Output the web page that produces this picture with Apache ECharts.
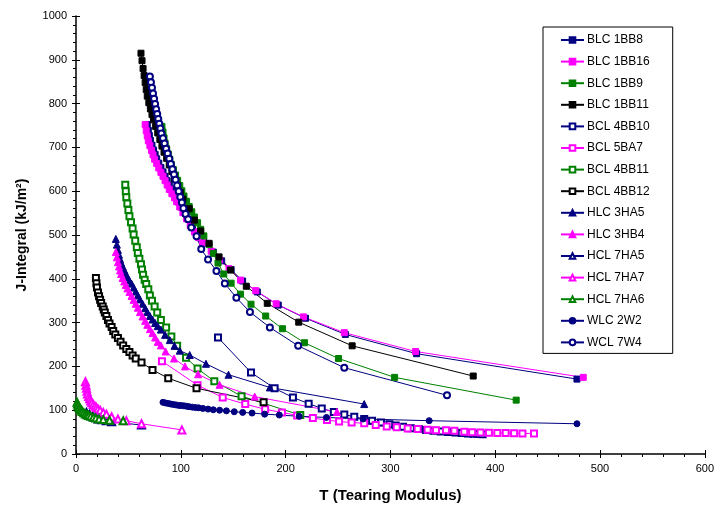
<!DOCTYPE html>
<html>
<head>
<meta charset="utf-8">
<script src="https://cdn.jsdelivr.net/npm/echarts@6/dist/echarts.min.js"></script>
<style>
  html, body { margin: 0; padding: 0; background: #fff; }
  #main { width: 717px; height: 508px; }
</style>
</head>
<body>
<div id="main"></div>
<script>
// ---- data: [T, J] pairs ----
var blc1bb8 = [[68,752],[69,739],[70,727],[71,716],[72.5,705],[74,694],[75.5,684],[77,674],[79,664],[81,654],[83,644],[85,634],[87,624],[89,614],[91,604],[93.5,594],[96,584],[98,575],[101,563],[104,550],[107.5,536],[111,521],[115,506],[119,493],[123,481],[131,461],[139,441],[148,421],[159,395],[173,370],[193,340],[219,310],[257,273],[325,229],[478,171]];
var blc1bb16 = [[66,752],[67,738],[68,726],[69,715],[70.5,704],[72,693],[73.5,683],[75,673],[77,663],[79,653],[81,643],[83,634],[85,624],[87,614],[89,604],[91.5,594],[94,585],[96,576],[99,564],[102,551],[105.5,537],[109,522],[113,507],[117,494],[121,482],[129,463],[137,443],[146,423],[157,397],[171.5,373],[191,343],[217,313],[256,277],[324,234],[484,175]];
var blc1bb9 = [[82,748],[83,735],[84,722],[85,710],[86.5,697],[88,685],[89.5,673],[91,661],[93,649],[95,637],[97,625],[99,613],[101,601],[103,589],[105.5,577],[108,565],[110.5,553],[113,541],[116,528],[119,513],[122,498],[127,478],[131,458],[135.5,436],[141,411],[148,390],[157,365],[167,342],[181,315],[197,286],[218,254],[250.5,218],[304,175],[420,123]];
var blc1bb11 = [[62,915],[63,898],[64,880],[65,864],[66,848],[67,832],[68,817],[69.5,802],[71,788],[72.5,775],[74,763],[76,748],[78,733],[80,718],[82,703],[84,689],[86.5,675],[89,660],[91.5,645],[94,628],[97,612],[99.5,597],[102,582],[108,560],[113,534],[119,509],[127,481],[136.5,450],[147.5,420],[162.5,383],[182.5,344],[212.5,301],[263.5,247],[379,178]];
var bcl4bb10 = [[135.5,266],[167,186],[189.5,150],[207,129],[222,115],[234.5,104],[246,96],[256,90],[265.5,85],[275,80],[282.5,76],[291,72],[299,68],[305,65],[312,62],[319.5,59],[327,57],[334,55],[341,53],[348,51.5],[355,50],[362,49],[368,48],[374,47],[379,46],[384,45.5],[388,45]];
var bcl5ba7 = [[82,212],[116,157],[140,129],[161.5,114],[180.5,102],[196.5,95],[211,88],[226,82],[239.5,77.5],[251,74],[263,72],[275,70],[286,66],[296.5,63],[306,61],[316.5,58],[326,57],[335.5,55.5],[343.5,54.5],[353,54],[361,53],[370.5,51],[378,49.5],[386,49],[394,48.5],[402,48],[410,48],[418,47.5],[426,47],[437,47]];
var bcl4bb11 = [[47,615],[47.5,600],[48,586],[49,572],[50,557],[51,543],[52.5,529],[54,515],[55,501],[56.5,487],[58,472],[59,459],[60.5,446],[62,433],[63,421],[64,409],[65.5,398],[67,388],[69,376],[70.5,362],[72.5,350],[75,337],[77.5,323],[81,306],[86,289],[91,268],[96.5,247],[105,220],[116,195],[132,166],[158,132],[214,89]];
var bcl4bb12 = [[19,402],[19.5,390],[20,380],[21,369],[22,360],[23,352],[24,345],[25.5,337],[26.5,330],[27.5,323],[29,315],[30.5,306],[32,298],[34,290],[35.5,281],[37.5,273],[40,265],[42.5,256],[45,248],[48,240],[51,233],[54,225],[57,218],[62.5,209],[73,192],[88,173],[115,150],[179,118]];
var hlc3ha5 = [[38,491],[39,478],[40,466],[41,455],[42,445],[43,437],[44.5,428],[46,420],[47.5,412],[49,404],[51,396],[53,389],[55,380],[57,371],[59,362],[61,353],[63.5,343],[66,333],[68,324],[70.5,315],[73,307],[75.5,299],[78,292],[81,284],[85,272],[89.5,260],[94,247],[99,236],[108.5,226],[124,206],[145.5,181],[185,152],[275,114]];
var hlc3hb4 = [[38,461],[39,449],[40,438],[41,428],[42,419],[43,411],[44.5,402],[46,394],[47.5,386],[49,378],[51,370],[53,361],[55,352],[57,343],[59,334],[61,324],[63.5,314],[66,304],[68,295],[70.5,285],[73,276],[75.5,266],[78,256],[81,248],[85.5,234],[93.5,218],[104,200],[116.5,182],[137,158],[170.5,131],[249,96]];
var hcl7ha5 = [[10,95],[13,90],[16,86],[18,83.5],[21,80],[24.5,78],[29,76],[34,73.5],[62.5,66]];
var hcl7ha7 = [[9,165],[9.5,157],[10,150],[10.5,143],[11,137],[12,131],[13,126],[14,121],[15,117],[16.5,113],[18,109],[19.5,106],[21,103],[23,100],[26,95],[29,91],[34,85],[40,80],[48,76],[62.5,69],[101,55]];
var hcl7ha6 = [[1,118],[1.5,114],[2,110],[3,106],[4,103],[5,100],[6,97],[7.5,94],[9,91.5],[10.5,89.5],[12,88],[14,86],[16.5,84],[19,82],[22,80],[26,78.5],[32,77],[45,76]];
var wlc2w2 = [[83,118],[85.5,116.5],[88,115.5],[90.5,114],[93,113],[95.5,112],[98,111],[100.5,110.5],[103,110],[105.5,109],[108,108],[111,107],[114,106],[117,105.5],[121,104],[126,102.5],[131,101],[137,100],[143.5,98.5],[151,96.5],[159,95],[168,93.5],[180,91],[194,89],[213,86],[239,83.5],[274,80],[337,76],[478,69]];
var wcl7w4 = [[70.5,862],[71.5,849],[72.5,836],[73.5,823],[74.5,811],[75.5,799],[76.5,787],[77.5,776],[78.5,765],[79.5,754],[80.5,743],[81.5,732],[83,721],[84.5,709],[86,697],[87.5,686],[89,674],[90.5,662],[92,650],[93.5,638],[95,626],[96.5,613],[98,600],[99.5,587],[101,574],[102.5,561],[104.5,548],[107,536],[110,517],[115,497],[119.5,468],[126,444],[134,418],[142,389],[153,357],[166,324],[185,289],[212,247],[256,197],[354,134]];

var NAVY = '#000080', MAG = '#ff00ff', GRN = '#008000', BLK = '#000000';

var seriesDefs = [
  ['BLC 1BB8',  blc1bb8,  'rect', NAVY, 6],
  ['BLC 1BB16', blc1bb16, 'rect', MAG, 6],
  ['BLC 1BB9',  blc1bb9,  'rect', GRN, 6],
  ['BLC 1BB11', blc1bb11, 'rect', BLK, 6],
  ['BCL 4BB10', bcl4bb10, 'emptyRect', NAVY, 6],
  ['BCL 5BA7',  bcl5ba7,  'emptyRect', MAG, 6],
  ['BCL 4BB11', bcl4bb11, 'emptyRect', GRN, 6],
  ['BCL 4BB12', bcl4bb12, 'emptyRect', BLK, 6],
  ['HLC 3HA5',  hlc3ha5,  'triangle', NAVY, 7],
  ['HLC 3HB4',  hlc3hb4,  'triangle', MAG, 7],
  ['HCL 7HA5',  hcl7ha5,  'emptyTriangle', NAVY, 7],
  ['HCL 7HA7',  hcl7ha7,  'emptyTriangle', MAG, 7],
  ['HCL 7HA6',  hcl7ha6,  'emptyTriangle', GRN, 7],
  ['WLC 2W2',   wlc2w2,   'circle', NAVY, 6],
  ['WCL 7W4',   wcl7w4,   'emptyCircle', NAVY, 6]
];

var series = seriesDefs.map(function(d) {
  return {
    name: d[0],
    type: 'line',
    data: d[1],
    xAxisIndex: 0,
    yAxisIndex: 0,
    symbol: d[2],
    symbolSize: d[4],
    showAllSymbol: true,
    animation: false,
    lineStyle: { color: d[3], width: 1 },
    itemStyle: { color: d[3], borderColor: d[3], borderWidth: 1 }
  };
});

var FONT = 'Liberation Sans, Arial, sans-serif';

var chart = echarts.init(document.getElementById('main'));
chart.setOption({
  animation: false,
  backgroundColor: '#fff',
  grid: { left: 76, right: 11, top: 16, bottom: 53 },
  legend: {
    orient: 'vertical',
    left: 543,
    top: 27,
    padding: [7, 23, 5, 17],
    itemWidth: 23,
    itemHeight: 7,
    itemGap: 9.6,
    borderColor: '#000',
    borderWidth: 1,
    backgroundColor: '#fff',
    textStyle: { fontFamily: FONT, fontSize: 12, color: '#000', padding: [0, 0, 0, -2] },
    data: seriesDefs.map(function(d) { return d[0]; })
  },
  xAxis: [{
    type: 'value', position: 'bottom', min: 0, max: 600, interval: 100,
    name: 'T (Tearing Modulus)', nameLocation: 'middle', nameGap: 34,
    nameTextStyle: { fontFamily: FONT, fontSize: 15, fontWeight: 'bold', color: '#000' },
    axisLine: { lineStyle: { color: '#000', width: 1.5 } },
    axisTick: { inside: false, length: 4, lineStyle: { color: '#000' } },
    minorTick: { show: true, splitNumber: 5, length: 3, lineStyle: { color: '#000' } },
    axisLabel: { fontFamily: FONT, fontSize: 11, color: '#000', margin: 9 },
    splitLine: { show: false }
  }, {
    type: 'value', position: 'bottom', min: 0, max: 600, interval: 100,
    axisLine: { show: false },
    axisTick: { inside: true, length: 4, lineStyle: { color: '#000' } },
    axisLabel: { show: false },
    splitLine: { show: false }
  }],
  yAxis: [{
    type: 'value', position: 'left', min: 0, max: 1000, interval: 100,
    name: 'J-Integral (kJ/m²)', nameLocation: 'middle', nameGap: 47,
    nameTextStyle: { fontFamily: FONT, fontSize: 14, fontWeight: 'bold', color: '#000' },
    axisLine: { lineStyle: { color: '#000', width: 1.5 } },
    axisTick: { inside: false, length: 4, lineStyle: { color: '#000' } },
    minorTick: { show: true, splitNumber: 5, length: 3, lineStyle: { color: '#000' } },
    axisLabel: { fontFamily: FONT, fontSize: 11, color: '#000', margin: 9, formatter: function(v) { return String(v); } },
    splitLine: { show: false }
  }, {
    type: 'value', position: 'left', min: 0, max: 1000, interval: 100,
    axisLine: { show: false },
    axisTick: { inside: true, length: 4, lineStyle: { color: '#000' } },
    axisLabel: { show: false },
    splitLine: { show: false }
  }],
  series: series
});
</script>
</body>
</html>
